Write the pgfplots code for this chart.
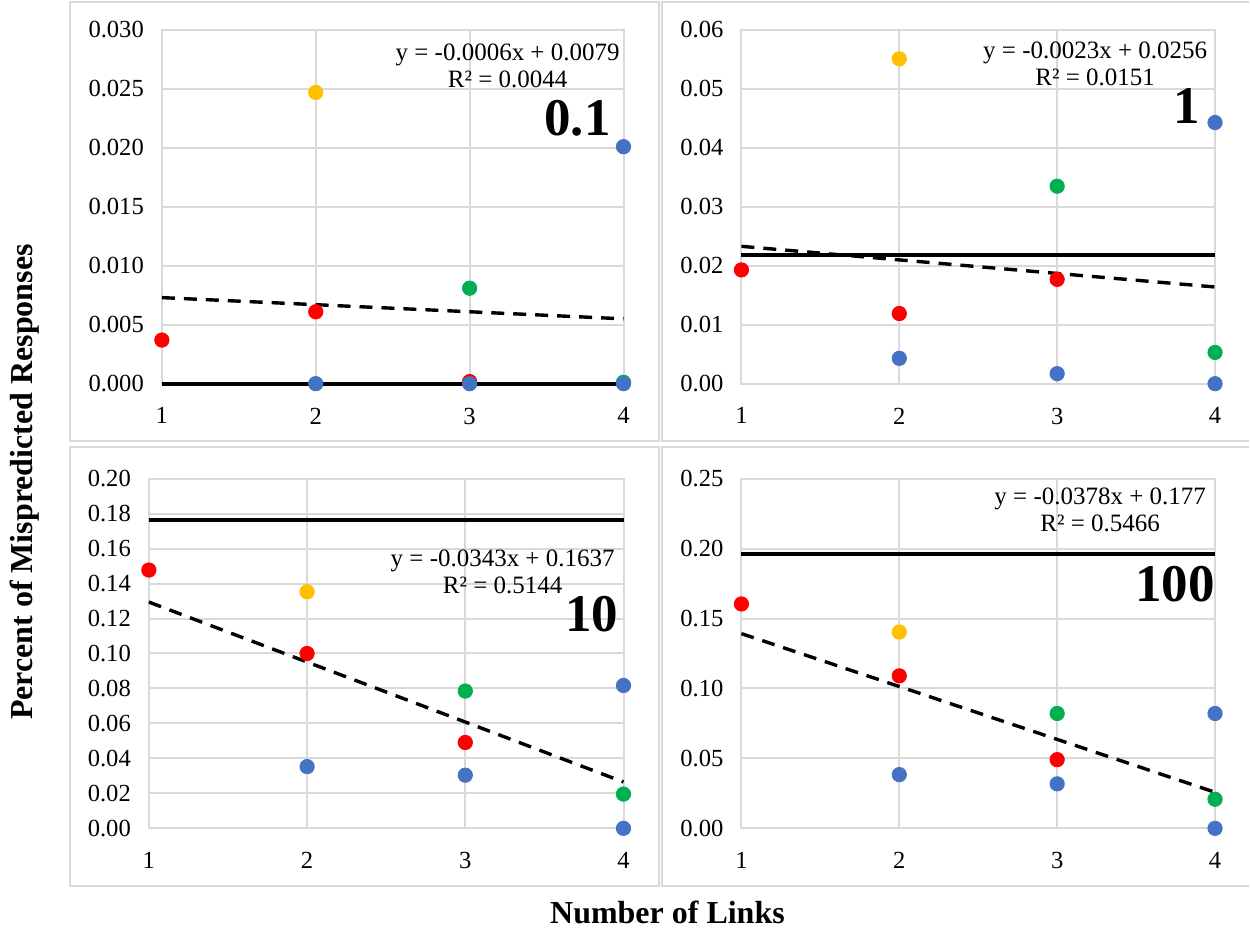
\documentclass[border=0pt]{standalone}
\usepackage{pgfplots}
\pgfplotsset{compat=1.18}
\usepackage{fontspec}
\setmainfont{Liberation Serif}
\definecolor{gridgray}{HTML}{D9D9D9}
\definecolor{sblue}{HTML}{4472C4}
\definecolor{sred}{HTML}{FF0000}
\definecolor{syellow}{HTML}{FFC000}
\definecolor{sgreen}{HTML}{00B050}
\pgfplotsset{
  panel/.style={
    scale only axis, clip=false,
    xmin=1, xmax=4, xtick={1,2,3,4},
    ymin=0,
    grid=major,
    major grid style={draw=gridgray, line width=1pt},
    axis line style={draw=gridgray, line width=1pt},
    major tick length=0pt,
    tick style={draw=none},
    scaled y ticks=false,
    /pgf/number format/assume math mode=true,
    ticklabel style={font=\fontsize{12.3}{14}\selectfont},
    yticklabel style={xshift=-5.5pt, /pgf/number format/fixed, /pgf/number format/fixed zerofill},
    xticklabel style={yshift=-8.5pt},
  },
  pts/.style={only marks, mark=*, mark size=3.6pt, mark options={draw=#1, fill=#1}},
  avg/.style={black, line width=2pt},
  trend/.style={black, line width=1.7pt, dash pattern=on 6.5pt off 4.5pt},
}
\begin{document}
\begin{tikzpicture}
\path (0,0) rectangle (625pt,466pt);
% panel frames
\draw[gridgray, line width=1pt] (35pt,245.5pt) rectangle (330pt,465pt);
\draw[gridgray, line width=1pt] (625pt,465pt) -- (331.5pt,465pt) -- (331.5pt,245.5pt) -- (625pt,245.5pt);
\draw[gridgray, line width=1pt] (35pt,22.5pt) rectangle (330pt,242.5pt);
\draw[gridgray, line width=1pt] (625pt,242.5pt) -- (331.5pt,242.5pt) -- (331.5pt,22.5pt) -- (625pt,22.5pt);

% ---------- panel 0.1 ----------
\begin{axis}[panel, at={(81pt,274pt)}, anchor=south west, width=231pt, height=177pt,
  ymax=0.030, ytick={0,0.005,0.010,0.015,0.020,0.025,0.030},
  yticklabel style={/pgf/number format/precision=3}]
\addplot[avg] coordinates {(1,0) (4,0)};
\addplot[pts=sred] coordinates {(1,0.0037) (2,0.0061) (3,0.00018)};
\addplot[pts=syellow] coordinates {(2,0.0247)};
\addplot[pts=sgreen] coordinates {(3,0.0081) (4,0.00012)};
\addplot[pts=sblue] coordinates {(2,0) (3,0) (4,0.0201) (4,0)};
\addplot[trend] coordinates {(1,0.0073) (4,0.0055)};
\end{axis}

% ---------- panel 1 ----------
\begin{axis}[panel, at={(371pt,274pt)}, anchor=south west, width=237pt, height=177pt,
  ymax=0.06, ytick={0,0.01,0.02,0.03,0.04,0.05,0.06},
  yticklabel style={/pgf/number format/precision=2}]
\addplot[avg] coordinates {(1,0.0218) (4,0.0218)};
\addplot[pts=sred] coordinates {(1,0.0193) (2,0.0119) (3,0.0177)};
\addplot[pts=syellow] coordinates {(2,0.0551)};
\addplot[pts=sgreen] coordinates {(3,0.0335) (4,0.0053)};
\addplot[pts=sblue] coordinates {(2,0.0043) (3,0.0017) (4,0.0443) (4,0)};
\addplot[trend] coordinates {(1,0.0233) (4,0.0164)};
\end{axis}

% ---------- panel 10 ----------
\begin{axis}[panel, at={(74.5pt,51.5pt)}, anchor=south west, width=237.5pt, height=175pt,
  ymax=0.20, ytick={0,0.02,0.04,0.06,0.08,0.10,0.12,0.14,0.16,0.18,0.20},
  yticklabel style={/pgf/number format/precision=2}]
\addplot[avg] coordinates {(1,0.1766) (4,0.1766)};
\addplot[pts=sred] coordinates {(1,0.1477) (2,0.1000) (3,0.0491)};
\addplot[pts=syellow] coordinates {(2,0.1353)};
\addplot[pts=sgreen] coordinates {(3,0.0785) (4,0.0196)};
\addplot[pts=sblue] coordinates {(2,0.0353) (3,0.0304) (4,0.0817) (4,0)};
\addplot[trend] coordinates {(1,0.1294) (4,0.0265)};
\end{axis}

% ---------- panel 100 ----------
\begin{axis}[panel, at={(371pt,51.5pt)}, anchor=south west, width=237pt, height=175pt,
  ymax=0.25, ytick={0,0.05,0.10,0.15,0.20,0.25},
  yticklabel style={/pgf/number format/precision=2}]
\addplot[avg] coordinates {(1,0.1958) (4,0.1958)};
\addplot[pts=sred] coordinates {(1,0.1604) (2,0.1090) (3,0.0491)};
\addplot[pts=syellow] coordinates {(2,0.1403)};
\addplot[pts=sgreen] coordinates {(3,0.0821) (4,0.0208)};
\addplot[pts=sblue] coordinates {(2,0.0384) (3,0.0318) (4,0.0821) (4,0)};
\addplot[trend] coordinates {(1,0.1392) (4,0.0258)};
\end{axis}

% equations
\begin{scope}[every node/.style={align=center, font=\fontsize{12.5}{13.5}\selectfont, inner sep=0pt}]
\node at (254pt,433pt) {y = -0.0006x + 0.0079\\R² = 0.0044};
\node at (548pt,434.25pt) {y = -0.0023x + 0.0256\\R² = 0.0151};
\node at (251.5pt,180pt) {y = -0.0343x + 0.1637\\R² = 0.5144};
\node at (550.5pt,211pt) {y = -0.0378x + 0.177\\R² = 0.5466};
\end{scope}
% big labels
\begin{scope}[every node/.style={font=\fontsize{26.5}{28}\selectfont\bfseries, inner sep=0pt}]
\node at (289pt,406.75pt) {0.1};
\node at (594pt,413pt) {1};
\node at (296pt,158.5pt) {10};
\node at (588pt,173.5pt) {100};
\end{scope}
% axis titles
\node[font=\fontsize{16}{18}\selectfont\bfseries, inner sep=0pt] at (334pt,9.5pt) {Number of Links};
\node[font=\fontsize{16}{18}\selectfont\bfseries, inner sep=0pt, rotate=90] at (12.5pt,224.75pt) {Percent of Mispredicted Responses};
\end{tikzpicture}
\end{document}
